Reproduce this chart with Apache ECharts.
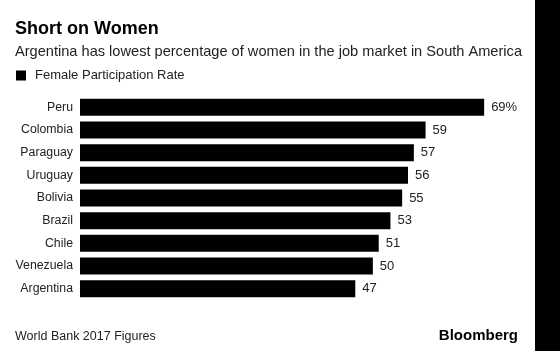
<!DOCTYPE html>
<html>
<head>
<meta charset="utf-8">
<script src="https://cdn.jsdelivr.net/npm/echarts@6/dist/echarts.min.js"></script>
<style>
  html, body { margin: 0; padding: 0; background: #fff; }
  #chart { width: 560px; height: 351px; }
</style>
</head>
<body>
<div id="chart"></div>
<script>
const countries = ['Peru', 'Colombia', 'Paraguay', 'Uruguay', 'Bolivia', 'Brazil', 'Chile', 'Venezuela', 'Argentina']
const rates = [69, 59, 57, 56, 55, 53, 51, 50, 47]

const chart = echarts.init(document.getElementById('chart'))
const font = 'Liberation Sans, Arial, Helvetica, sans-serif'

chart.setOption({
  backgroundColor: '#fff',
  animation: false,
  title: [{
    text: 'Short on Women',
    left: 15,
    top: 20,
    padding: 0,
    textStyle: { fontFamily: font, fontSize: 18, fontWeight: 'bold', color: '#000' }
  }, {
    text: 'Argentina has lowest percentage of women in the job market in South America',
    left: 15,
    top: 44,
    padding: 0,
    textStyle: { fontFamily: font, fontSize: 14.6, fontWeight: 'normal', color: '#222' }
  }, {
    text: 'World Bank 2017 Figures',
    left: 15,
    top: 330,
    padding: 0,
    textStyle: { fontFamily: font, fontSize: 12.5, fontWeight: 'normal', color: '#222' }
  }, {
    text: 'Bloomberg',
    right: 42,
    top: 328,
    padding: 0,
    textStyle: { fontFamily: font, fontSize: 15, fontWeight: 'bold', color: '#000' }
  }],
  legend: {
    left: 16,
    top: 69,
    padding: 0,
    itemWidth: 10,
    itemHeight: 10,
    icon: 'rect',
    textStyle: { fontFamily: font, fontSize: 13, color: '#222', padding: [0, 0, 0, 4] },
    data: ['Female Participation Rate']
  },
  grid: {
    left: 80,
    right: 70,
    top: 96,
    bottom: 51,
    containLabel: false
  },
  xAxis: {
    type: 'value',
    min: 0,
    max: 70,
    show: false
  },
  yAxis: {
    type: 'category',
    data: countries,
    inverse: true,
    axisLine: { show: false },
    axisTick: { show: false },
    axisLabel: { fontFamily: font, fontSize: 12.3, color: '#222', margin: 7 }
  },
  series: [{
    name: 'Female Participation Rate',
    type: 'bar',
    data: rates,
    barCategoryGap: '25%',
    itemStyle: { color: '#000' },
    label: {
      show: true,
      position: 'right',
      distance: 7,
      fontFamily: font,
      fontSize: 13,
      color: '#222',
      formatter(p) {
        return p.dataIndex === 0 ? p.value + '%' : p.value
      }
    }
  }],
  graphic: [{
    type: 'rect',
    shape: { x: 535, y: 0, width: 25, height: 351 },
    style: { fill: '#000' }
  }]
})
</script>
</body>
</html>
